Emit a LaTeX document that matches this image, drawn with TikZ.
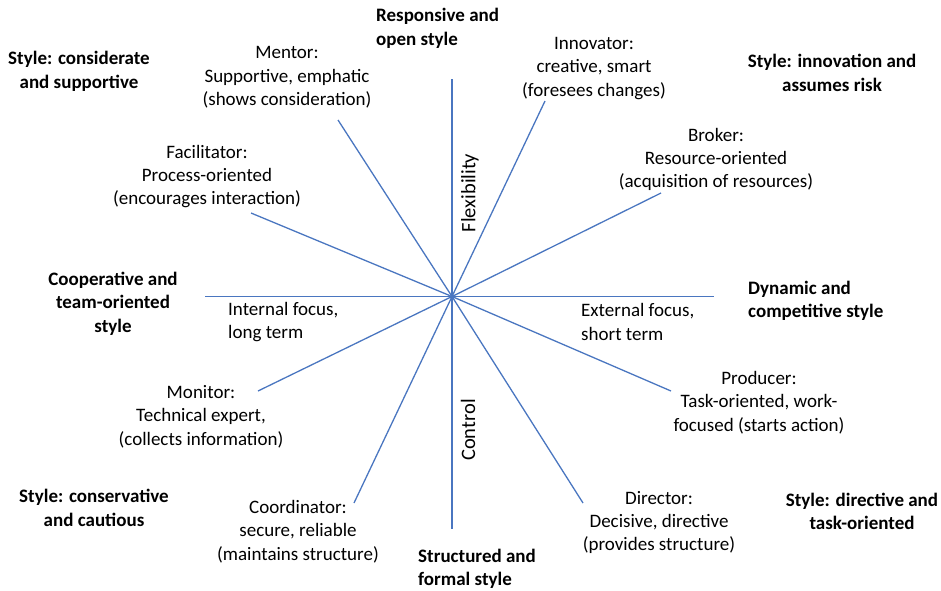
\documentclass[tikz,border=0pt]{standalone}
\usepackage{fontspec}
\setmainfont{Carlito}
\definecolor{spoke}{HTML}{4A76C0}
\begin{document}
\begin{tikzpicture}[x=1pt,y=-1pt,
  spokeline/.style={draw=spoke,line width=1.3pt},
  role/.style={align=center,inner sep=0pt,font=\fontsize{19}{23.4}\selectfont},
  rolel/.style={align=left,inner sep=0pt,font=\fontsize{19}{23.4}\selectfont},
  stylebox/.style={align=center,inner sep=0pt,font=\fontsize{19}{23.4}\selectfont\bfseries},
  styleboxl/.style={align=left,inner sep=0pt,font=\fontsize{19}{23.4}\selectfont\bfseries},
  axislabel/.style={rotate=90,inner sep=0pt,font=\fontsize{20.5}{24}\selectfont}]
\useasboundingbox (0,0) rectangle (941,590);

% hub and spoke ends
\coordinate (c) at (452,296.5);
\coordinate (top) at (452,79);
\coordinate (bottom) at (452,529);
\coordinate (left) at (205,296.5);
\coordinate (right) at (714,296.5);
\coordinate (mentorEnd) at (338,120);
\coordinate (innovatorEnd) at (545,101);
\coordinate (facilitatorEnd) at (251,213);
\coordinate (brokerEnd) at (661,193);
\coordinate (monitorEnd) at (258,391);
\coordinate (producerEnd) at (671,391);
\coordinate (coordinatorEnd) at (354,503);
\coordinate (directorEnd) at (583,503);

% axes
\draw[spokeline] (c) -- (top);
\draw[spokeline] (c) -- (bottom);
\draw[spokeline] (c) -- (left);
\draw[spokeline] (c) -- (right);
% role spokes
\draw[spokeline] (c) -- (mentorEnd);
\draw[spokeline] (c) -- (innovatorEnd);
\draw[spokeline] (c) -- (facilitatorEnd);
\draw[spokeline] (c) -- (brokerEnd);
\draw[spokeline] (c) -- (monitorEnd);
\draw[spokeline] (c) -- (producerEnd);
\draw[spokeline] (c) -- (coordinatorEnd);
\draw[spokeline] (c) -- (directorEnd);

% roles
\node[role] (mentor) at (287,77.5) {Mentor:\\Supportive, emphatic\\(shows consideration)};
\node[role] (innovator) at (594,68.5) {Innovator:\\creative, smart\\(foresees changes)};
\node[role] (broker) at (716,159.5) {Broker:\\Resource-oriented\\(acquisition of resources)};
\node[role] (facilitator) at (207,176.5) {Facilitator:\\Process-oriented\\(encourages interaction)};
\node[role] (producer) at (759,402.5) {Producer:\\Task-oriented, work-\\focused (starts action)};
\node[role] (monitor) at (201,416.5) {Monitor:\\Technical expert,\\(collects information)};
\node[role] (coordinator) at (298,531.5) {Coordinator:\\secure, reliable\\(maintains structure)};
\node[role] (director) at (659,522.5) {Director:\\Decisive, directive\\(provides structure)};

% focus labels
\node[rolel,anchor=west] (internal) at (228,322) {Internal focus,\\long term};
\node[rolel,anchor=west] (external) at (581,322) {External focus,\\short term};

% axis names
\node[axislabel] (flex) at (470,193) {Flexibility};
\node[axislabel] (control) at (468,430) {Control};

% leadership styles
\node[styleboxl,anchor=west] (responsive) at (376,28.5) {Responsive and\\open style};
\node[stylebox] (considerate) at (79,71.5) {Style: considerate\\and supportive};
\node[stylebox] (innovation) at (832,73) {Style: innovation and\\assumes risk};
\node[stylebox] (cooperative) at (113,303.5) {Cooperative and\\team-oriented\\style};
\node[styleboxl,anchor=west] (dynamic) at (748,301) {Dynamic and\\competitive style};
\node[stylebox] (conservative) at (94,508) {Style: conservative\\and cautious};
\node[styleboxl,anchor=west] (structured) at (418,569) {Structured and\\formal style};
\node[stylebox] (directive) at (862,511.5) {Style: directive and\\task-oriented};
\end{tikzpicture}
\end{document}
